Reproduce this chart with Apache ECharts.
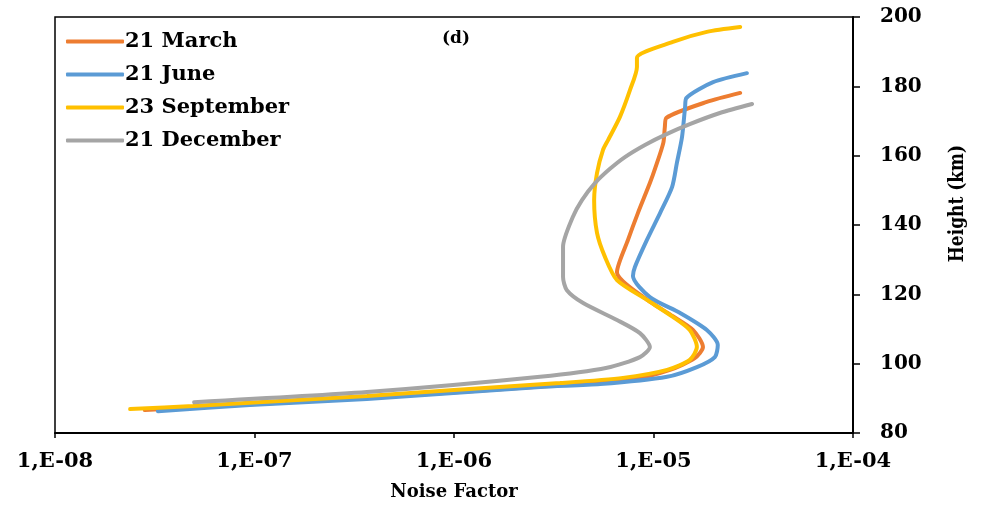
<!DOCTYPE html>
<html>
<head>
<meta charset="utf-8">
<script src="https://cdn.jsdelivr.net/npm/echarts@6/dist/echarts.min.js"></script>
<style>
  html, body { margin: 0; padding: 0; background: #fff; }
  #chart { width: 998px; height: 506px; }
</style>
</head>
<body>
<div id="chart"></div>
<script>
// noise factor vs height (km)
const marchNoise = [2.82e-8, 5.37e-8, 3.66e-7, 3.40e-6, 7.62e-6, 1.21e-5, 1.61e-5, 1.77e-5, 1.58e-5, 1.25e-5, 9.06e-6, 6.56e-6, 7.45e-6, 8.36e-6, 9.59e-6, 1.02e-5, 1.12e-5, 1.14e-5, 1.16e-5, 1.85e-5, 2.72e-5];
const marchHeight = [86.6, 87.5, 90.1, 93.8, 95.3, 98.2, 101.6, 104.8, 109.7, 113.7, 118.9, 126.4, 135.7, 143.5, 152.1, 156.4, 163.7, 168.3, 170.9, 175.5, 178.1];

const juneNoise = [3.28e-8, 9.48e-8, 3.66e-7, 2.70e-6, 5.40e-6, 1.17e-5, 1.65e-5, 2.03e-5, 2.10e-5, 1.85e-5, 1.36e-5, 9.59e-6, 7.89e-6, 8.07e-6, 9.27e-6, 1.08e-5, 1.24e-5, 1.31e-5, 1.39e-5, 1.44e-5, 1.46e-5, 1.99e-5, 2.94e-5];
const juneHeight = [86.3, 88.1, 89.8, 93.3, 94.1, 96.2, 99.0, 101.9, 105.4, 109.7, 114.6, 119.2, 125.3, 127.9, 135.7, 143.5, 151.0, 157.9, 165.4, 174.0, 176.6, 181.2, 183.8];

const septNoise = [2.38e-8, 4.92e-8, 3.66e-7, 1.0e-6, 3.40e-6, 7.03e-6, 1.17e-5, 1.52e-5, 1.65e-5, 1.52e-5, 1.25e-5, 9.27e-6, 6.56e-6, 5.71e-6, 5.21e-6, 5.04e-6, 5.21e-6, 5.58e-6, 5.92e-6, 6.79e-6, 7.62e-6, 8.26e-6, 8.26e-6, 1.25e-5, 1.85e-5, 2.72e-5];
const septHeight = [86.9, 87.8, 90.7, 92.4, 94.4, 95.9, 98.2, 101.1, 104.8, 109.7, 113.5, 118.4, 124.1, 130.8, 137.7, 147.2, 155.0, 161.6, 164.5, 171.2, 178.9, 185.6, 188.2, 192.8, 195.7, 197.1];

const decNoise = [4.98e-8, 3.66e-7, 2.70e-6, 5.85e-6, 8.55e-6, 9.59e-6, 8.55e-6, 6.56e-6, 4.44e-6, 3.68e-6, 3.52e-6, 3.52e-6, 3.94e-6, 4.38e-6, 5.09e-6, 6.05e-6, 7.19e-6, 9.06e-6, 1.17e-5, 1.52e-5, 2.15e-5, 3.12e-5];
const decHeight = [88.9, 91.8, 96.2, 98.8, 101.9, 104.8, 108.8, 112.6, 117.5, 121.2, 125.0, 133.7, 142.3, 147.2, 152.1, 156.2, 159.6, 163.1, 166.3, 169.1, 172.3, 174.9];

const seriesNames = ['21 March', '21 June', '23 September', '21 December'];
const seriesColors = ['#ED7D31', '#5B9BD5', '#FFC000', '#A5A5A5'];
const yTicks = [80, 100, 120, 140, 160, 180, 200];

const font = '"DejaVu Serif", "Liberation Serif", serif';

const pairs = (xs, ys) => xs.map((x, i) => [x, ys[i]]);
const allData = [
    pairs(marchNoise, marchHeight),
    pairs(juneNoise, juneHeight),
    pairs(septNoise, septHeight),
    pairs(decNoise, decHeight)
];

const chart = echarts.init(document.getElementById('chart'));

const option = {
    animation: false,
    title: {
        text: '(d)',
        left: 437,
        top: 25,
        textStyle: { fontFamily: font, fontSize: 17, fontWeight: 'bold', color: '#000' }
    },
    legend: {
        orient: 'vertical',
        left: 61,
        top: 26,
        itemWidth: 58,
        itemHeight: 4,
        itemGap: 12,
        icon: 'roundRect',
        textStyle: { fontFamily: font, fontSize: 21, fontWeight: 'bold', color: '#000', padding: [0, 0, 0, -4] },
        data: seriesNames
    },
    grid: {
        left: 55,
        right: 145,
        top: 17,
        bottom: 73,
        show: true,
        borderColor: '#000',
        borderWidth: 1.5
    },
    xAxis: {
        type: 'log',
        logBase: 10,
        min: 1e-8,
        max: 1e-4,
        name: 'Noise Factor',
        nameLocation: 'middle',
        nameGap: 50,
        nameTextStyle: { fontFamily: font, fontSize: 18, fontWeight: 'bold', color: '#000' },
        axisLine: { lineStyle: { color: '#000', width: 2 } },
        axisTick: { length: 5, lineStyle: { color: '#000', width: 1.5 } },
        minorTick: { show: false },
        splitLine: { show: false },
        axisLabel: {
            margin: 18,
            fontFamily: font,
            fontSize: 21,
            fontWeight: 'bold',
            color: '#000',
            formatter: v => {
                const e = Math.round(Math.log10(v));
                const s = String(Math.abs(e)).padStart(2, '0');
                return '1,E' + (e < 0 ? '-' : '+') + s;
            }
        }
    },
    yAxis: {
        type: 'value',
        position: 'right',
        min: yTicks[0],
        max: yTicks[yTicks.length - 1],
        interval: 20,
        axisLine: { show: true, lineStyle: { color: '#000', width: 2 } },
        axisTick: { show: true, length: 7, lineStyle: { color: '#000', width: 1.5 } },
        splitLine: { show: false },
        axisLabel: {
            margin: 27,
            fontFamily: font,
            fontSize: 20,
            fontWeight: 'bold',
            color: '#000'
        }
    },
    graphic: [{
        type: 'text',
        left: 947,
        top: 145,
        rotation: Math.PI / 2,
        scaleY: 1.2,
        style: {
            text: 'Height (km)',
            fontFamily: font,
            fontSize: 17,
            fontWeight: 'bold',
            fill: '#000'
        }
    }],
    series: seriesNames.map((name, i) => ({
        name,
        type: 'line',
        data: allData[i],
        showSymbol: false,
        symbol: 'none',
        smooth: 0.25,
        color: seriesColors[i],
        lineStyle: { width: 4, color: seriesColors[i], cap: 'round' },
        z: 2 + i
    }))
};

chart.setOption(option);
</script>
</body>
</html>
